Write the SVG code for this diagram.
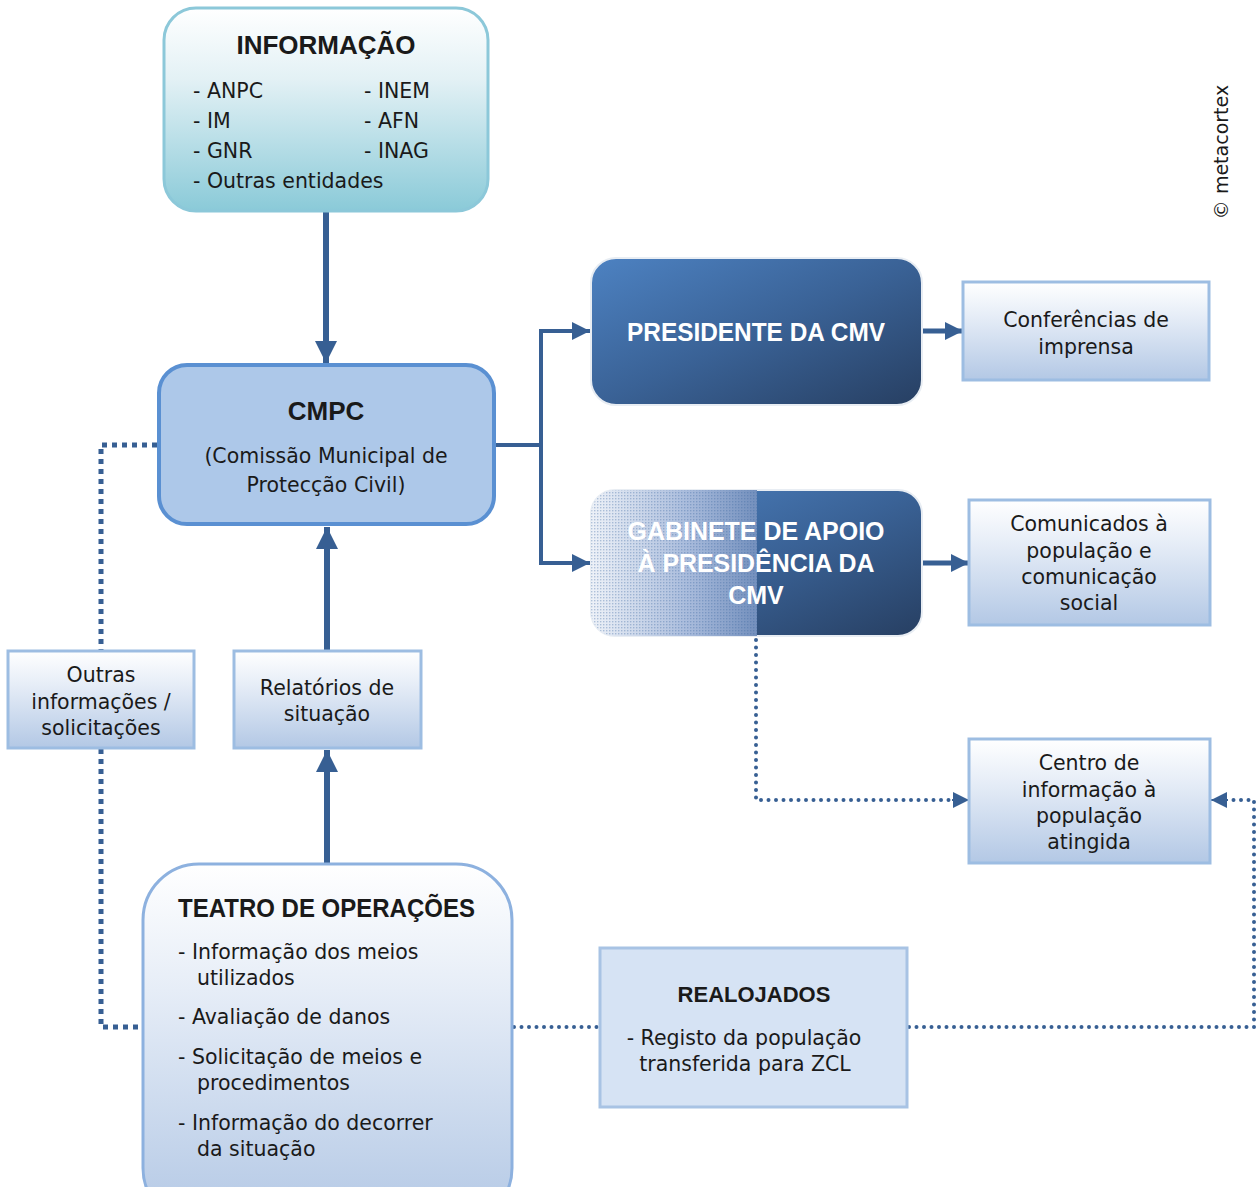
<svg xmlns="http://www.w3.org/2000/svg" width="1257" height="1187" viewBox="0 0 1257 1187">
<defs>
<linearGradient id="gInfo" x1="0" y1="0" x2="0" y2="1">
<stop offset="0" stop-color="#ffffff"/><stop offset="0.35" stop-color="#e3f1f5"/><stop offset="1" stop-color="#8acad8"/>
</linearGradient>
<linearGradient id="gLight" x1="0" y1="0" x2="0" y2="1">
<stop offset="0" stop-color="#ffffff"/><stop offset="0.35" stop-color="#e6edf7"/><stop offset="1" stop-color="#b3c8e5"/>
</linearGradient>
<linearGradient id="gDark" x1="0" y1="0" x2="1" y2="1">
<stop offset="0" stop-color="#4d82c2"/><stop offset="0.5" stop-color="#3a6296"/><stop offset="1" stop-color="#273f62"/>
</linearGradient>
<linearGradient id="gHalf" x1="0" y1="0" x2="1" y2="0">
<stop offset="0" stop-color="#eef2f8"/><stop offset="0.6" stop-color="#a7badb"/><stop offset="1" stop-color="#7490bd"/>
</linearGradient>
<pattern id="dots" width="3" height="3" patternUnits="userSpaceOnUse">
<rect width="1.4" height="1.4" fill="#3d67a0" fill-opacity="0.35"/>
</pattern>
<clipPath id="gabClip"><rect x="591" y="490" width="331" height="146" rx="24"/></clipPath>
<marker id="ahBig" markerUnits="userSpaceOnUse" markerWidth="22" markerHeight="22" viewBox="0 0 22 22" refX="22" refY="11" orient="auto">
<path d="M0,0 L22,11 L0,22 Z" fill="#375f93"/>
</marker>
<marker id="ahMid" markerUnits="userSpaceOnUse" markerWidth="18" markerHeight="18" viewBox="0 0 18 18" refX="18" refY="9" orient="auto">
<path d="M0,0 L18,9 L0,18 Z" fill="#375f93"/>
</marker>
<marker id="ahSm" markerUnits="userSpaceOnUse" markerWidth="16" markerHeight="16" viewBox="0 0 16 16" refX="16" refY="8" orient="auto">
<path d="M0,0 L16,8 L0,16 Z" fill="#375f93"/>
</marker>
</defs>
<style>
text{font-family:"DejaVu Sans","Liberation Sans",Arial,sans-serif;fill:#1a1a1a}
.t{font-size:20.5px}
.c{text-anchor:middle}
.b{font-weight:bold;font-family:"Liberation Sans",Arial,sans-serif}
.w{fill:#ffffff}
.box{fill:url(#gLight);stroke:#9dbde2;stroke-width:3}
.solid{fill:none;stroke:#375f93}
.sq{fill:none;stroke:#375f93;stroke-width:5;stroke-dasharray:5 5}
.rd{fill:none;stroke:#375f93;stroke-width:4;stroke-dasharray:0 7.5;stroke-linecap:round}
</style>
<rect width="1257" height="1187" fill="#ffffff"/>

<g id="connectors">
<line class="solid" x1="326" y1="212" x2="326" y2="363" stroke-width="6" marker-end="url(#ahBig)"/>
<line class="solid" x1="327" y1="650" x2="327" y2="527" stroke-width="6" marker-end="url(#ahBig)"/>
<line class="solid" x1="327" y1="863" x2="327" y2="750" stroke-width="6" marker-end="url(#ahBig)"/>
<path class="solid" d="M496,445 H541" stroke-width="4"/>
<path class="solid" d="M541,563 V331 H590" stroke-width="4" marker-end="url(#ahMid)"/>
<path class="solid" d="M541,445 V563 H590" stroke-width="4" marker-end="url(#ahMid)"/>
<line class="solid" x1="923" y1="331" x2="963" y2="331" stroke-width="5" marker-end="url(#ahMid)"/>
<line class="solid" x1="923" y1="563" x2="969" y2="563" stroke-width="5" marker-end="url(#ahMid)"/>
<path class="sq" d="M157,445 H101 V651"/>
<path class="sq" d="M101,749 V1027 H143"/>
<line class="rd" x1="514" y1="1027" x2="600" y2="1027"/>
<path class="rd" d="M756,640 V800 H952"/>
<path class="solid" d="M952,800 H969" stroke-width="2" marker-end="url(#ahSm)"/>
<path class="rd" d="M909,1027 H1254 V800 H1228"/>
<path class="solid" d="M1228,800 H1211" stroke-width="2" marker-end="url(#ahSm)"/>
</g>

<g id="informacao">
<rect x="164" y="8" width="324" height="203" rx="32" fill="url(#gInfo)" stroke="#8cc8d9" stroke-width="3"/>
<text class="c b" x="326" y="54" font-size="26">INFORMAÇÃO</text>
<text class="t" x="193" y="98">- ANPC</text>
<text class="t" x="364" y="98">- INEM</text>
<text class="t" x="193" y="128">- IM</text>
<text class="t" x="364" y="128">- AFN</text>
<text class="t" x="193" y="158">- GNR</text>
<text class="t" x="364" y="158">- INAG</text>
<text class="t" x="193" y="188">- Outras entidades</text>
</g>

<g id="cmpc">
<rect x="159" y="365" width="335" height="159" rx="28" fill="#adc8e9" stroke="#5a90d2" stroke-width="4"/>
<text class="c b" x="326" y="420" font-size="26">CMPC</text>
<text class="t c" x="326" y="463">(Comissão Municipal de</text>
<text class="t c" x="326" y="492">Protecção Civil)</text>
</g>

<g id="presidente">
<rect x="591" y="258" width="331" height="147" rx="25" fill="url(#gDark)" stroke="#e8edf3" stroke-width="2"/>
<text class="c b w" x="756" y="341" font-size="25" textLength="258" lengthAdjust="spacingAndGlyphs">PRESIDENTE DA CMV</text>
</g>

<g id="gabinete">
<rect x="591" y="490" width="331" height="146" rx="24" fill="url(#gDark)" stroke="#e8edf3" stroke-width="2"/>
<g clip-path="url(#gabClip)">
<rect x="591" y="490" width="166" height="146" fill="url(#gHalf)"/>
<rect x="591" y="490" width="166" height="146" fill="url(#dots)"/>
</g>
<text class="c b w" x="756" y="540" font-size="25" textLength="257" lengthAdjust="spacingAndGlyphs">GABINETE DE APOIO</text>
<text class="c b w" x="756" y="572" font-size="25" textLength="237" lengthAdjust="spacingAndGlyphs">À PRESIDÊNCIA DA</text>
<text class="c b w" x="756" y="604" font-size="25">CMV</text>
</g>

<g id="conferencias">
<rect class="box" x="963" y="282" width="246" height="98"/>
<text class="t c" x="1086" y="327">Conferências de</text>
<text class="t c" x="1086" y="354">imprensa</text>
</g>

<g id="comunicados">
<rect class="box" x="969" y="500" width="241" height="125"/>
<text class="t c" x="1089" y="531">Comunicados à</text>
<text class="t c" x="1089" y="558">população e</text>
<text class="t c" x="1089" y="584">comunicação</text>
<text class="t c" x="1089" y="610">social</text>
</g>

<g id="centro">
<rect class="box" x="969" y="739" width="241" height="124"/>
<text class="t c" x="1089" y="770">Centro de</text>
<text class="t c" x="1089" y="797">informação à</text>
<text class="t c" x="1089" y="823">população</text>
<text class="t c" x="1089" y="849">atingida</text>
</g>

<g id="outras">
<rect class="box" x="8" y="651" width="186" height="97"/>
<text class="t c" x="101" y="682">Outras</text>
<text class="t c" x="101" y="709">informações /</text>
<text class="t c" x="101" y="735">solicitações</text>
</g>

<g id="relatorios">
<rect class="box" x="234" y="651" width="187" height="97"/>
<text class="t c" x="327" y="695">Relatórios de</text>
<text class="t c" x="327" y="721">situação</text>
</g>

<g id="teatro">
<rect x="143" y="864" width="369" height="360" rx="56" fill="url(#gLight)" stroke="#8db1df" stroke-width="3"/>
<text class="b" x="178" y="917" font-size="25" textLength="297" lengthAdjust="spacingAndGlyphs">TEATRO DE OPERAÇÕES</text>
<text class="t" x="178" y="959">- Informação dos meios</text>
<text class="t" x="197" y="985">utilizados</text>
<text class="t" x="178" y="1024">- Avaliação de danos</text>
<text class="t" x="178" y="1064">- Solicitação de meios e</text>
<text class="t" x="197" y="1090">procedimentos</text>
<text class="t" x="178" y="1130">- Informação do decorrer</text>
<text class="t" x="197" y="1156">da situação</text>
</g>

<g id="realojados">
<rect x="600" y="948" width="307" height="159" fill="#d6e3f4" stroke="#a8c3e4" stroke-width="3"/>
<text class="c b" x="754" y="1002" font-size="22">REALOJADOS</text>
<text class="t c" x="744" y="1045">- Registo da população</text>
<text class="t c" x="745" y="1071">transferida para ZCL</text>
</g>

<text x="1228" y="152" font-size="19" text-anchor="middle" font-family="Liberation Sans, Arial, sans-serif" transform="rotate(-90 1228 152)">© metacortex</text>
</svg>
